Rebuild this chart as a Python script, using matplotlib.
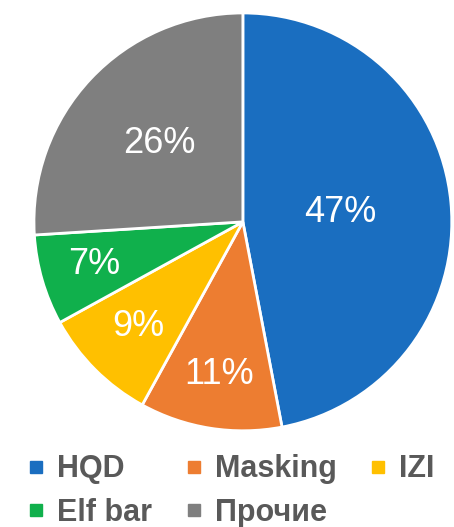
import numpy as np
import matplotlib
matplotlib.use('Agg')
import matplotlib.pyplot as plt
from matplotlib.lines import Line2D

brands = ['HQD', 'Masking', 'IZI', 'Elf bar', 'Прочие']
shares = [47, 11, 9, 7, 26]
colors = ['#1A6EC0', '#ED7D31', '#FFC000', '#10B04C', '#7F7F7F']
# small slices get their labels pushed further out
label_dist = [0.47, 0.74, 0.71, 0.74, 0.55]

plt.rcParams['font.family'] = ['Liberation Sans', 'DejaVu Sans']

fig = plt.figure(figsize=(4.54, 5.27), dpi=100)
ax = fig.add_axes([0.535 - 0.4648, 0.579 - 0.4004, 0.9295, 0.8008])

wedges, _ = ax.pie(shares, colors=colors, startangle=90, counterclock=False,
                   wedgeprops=dict(edgecolor='white', linewidth=2))
ax.set_xlim(-1.01, 1.01)
ax.set_ylim(-1.01, 1.01)
ax.set_aspect('equal')

for w, v, d in zip(wedges, shares, label_dist):
    ang = np.deg2rad((w.theta1 + w.theta2) / 2)
    ax.text(d * np.cos(ang), d * np.sin(ang), '{}%'.format(v),
            ha='center', va='center', color='white', fontsize=26)

# legend columns fill top-to-bottom, so reorder
order = [0, 3, 1, 4, 2]
handles = [Line2D([], [], marker='s', linestyle='none', markersize=9,
                  markerfacecolor=colors[i], markeredgecolor=colors[i]) for i in order]
labels = [brands[i] for i in order]
leg = fig.legend(handles, labels, ncol=3, loc='center', bbox_to_anchor=(0.505, 0.068),
                 frameon=False, handletextpad=0.3, columnspacing=0.95,
                 labelspacing=0.45, handlelength=0.8,
                 prop=dict(size=22, weight='bold'))
for t in leg.get_texts():
    t.set_color('#595959')

fig.savefig('out.png', dpi=100)
